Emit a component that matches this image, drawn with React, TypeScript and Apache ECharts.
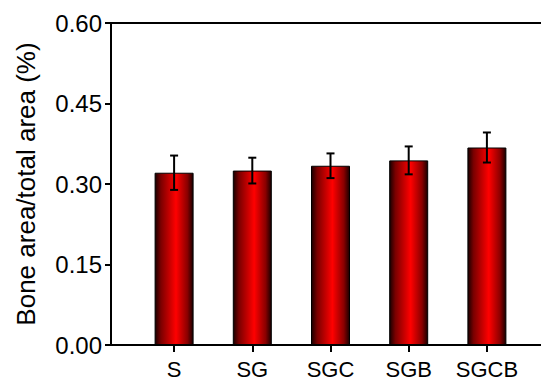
import React, { useEffect, useRef } from "react";
import * as echarts from "echarts";

const categories = ["S", "SG", "SGC", "SGB", "SGCB"];
const means = [0.321, 0.325, 0.334, 0.344, 0.368];
const errors = [0.032, 0.024, 0.023, 0.026, 0.028];
const yTicks = { min: 0, max: 0.6, interval: 0.15 };
const yTitle = "Bone area/total area (%)";

const FONT = "'Liberation Sans', Arial, sans-serif";

export default function App() {
  const ref = useRef<HTMLDivElement>(null);
  useEffect(() => {
    if (!ref.current) return;
    document.body.style.margin = "0";
    const chart = echarts.init(ref.current, undefined, { renderer: "svg" });
    const barColor = new echarts.graphic.LinearGradient(0, 0, 1, 0, [
      { offset: 0, color: "#1a0000" },
      { offset: 0.15, color: "#7a0000" },
      { offset: 0.55, color: "#ff0000" },
      { offset: 0.85, color: "#8a0000" },
      { offset: 1, color: "#1a0000" },
    ]);
    chart.setOption({
      animation: false,
      backgroundColor: "#ffffff",
      textStyle: { fontFamily: FONT },
      grid: [
        { left: 111, right: 0, top: 23, bottom: 43 },
        { left: 135, width: 391, top: 23, bottom: 43 },
      ],
      xAxis: [
        {
          gridIndex: 0,
          type: "value",
          min: 0,
          max: 1,
          position: "bottom",
          axisLine: { show: true, onZero: false, lineStyle: { color: "#000", width: 2 } },
          axisTick: { show: false },
          axisLabel: { show: false },
          splitLine: { show: false },
        },
        {
          gridIndex: 0,
          type: "value",
          min: 0,
          max: 1,
          position: "top",
          axisLine: { show: true, onZero: false, lineStyle: { color: "#000", width: 2 } },
          axisTick: { show: false },
          axisLabel: { show: false },
          splitLine: { show: false },
        },
        {
          gridIndex: 1,
          type: "category",
          data: categories,
          position: "bottom",
          axisLine: { show: false, onZero: false },
          axisTick: {
            show: true,
            alignWithLabel: true,
            interval: 0,
            length: 7,
            lineStyle: { color: "#000", width: 2 },
          },
          axisLabel: {
            color: "#000",
            fontSize: 22,
            fontFamily: FONT,
            margin: 13,
            interval: 0,
            hideOverlap: false,
          },
        },
      ],
      yAxis: [
        {
          gridIndex: 0,
          type: "value",
          min: yTicks.min,
          max: yTicks.max,
          interval: yTicks.interval,
          name: yTitle,
          nameLocation: "middle",
          nameRotate: 90,
          nameGap: 72,
          nameTextStyle: { color: "#000", fontSize: 26, fontFamily: FONT },
          axisLine: { show: true, onZero: false, lineStyle: { color: "#000", width: 2 } },
          axisTick: { show: true, length: 6, lineStyle: { color: "#000", width: 2 } },
          axisLabel: {
            color: "#000",
            fontSize: 24,
            fontFamily: FONT,
            margin: 9,
            formatter: (v: number) => v.toFixed(2),
          },
          splitLine: { show: false },
        },
        {
          gridIndex: 1,
          type: "value",
          min: yTicks.min,
          max: yTicks.max,
          interval: yTicks.interval,
          show: false,
          splitLine: { show: false },
        },
      ],
      series: [
        {
          type: "bar",
          xAxisIndex: 2,
          yAxisIndex: 1,
          data: means,
          barWidth: 39,
          itemStyle: { color: barColor, borderColor: "#000", borderWidth: 1 },
          z: 2,
        },
        {
          type: "custom",
          xAxisIndex: 2,
          yAxisIndex: 1,
          z: 5,
          data: means.map((m, i) => [i, m - errors[i], m + errors[i]]),
          renderItem: (params: any, api: any) => {
            const x = api.value(0);
            const lo = api.coord([x, api.value(1)]);
            const hi = api.coord([x, api.value(2)]);
            const hw = 4;
            const style = { stroke: "#000", lineWidth: 2 };
            return {
              type: "group",
              children: [
                { type: "line", shape: { x1: lo[0], y1: lo[1], x2: hi[0], y2: hi[1] }, style },
                { type: "line", shape: { x1: hi[0] - hw, y1: hi[1], x2: hi[0] + hw, y2: hi[1] }, style },
                { type: "line", shape: { x1: lo[0] - hw, y1: lo[1], x2: lo[0] + hw, y2: lo[1] }, style },
              ],
            };
          },
        },
      ],
    });
    return () => chart.dispose();
  }, []);
  return <div ref={ref} style={{ width: 541, height: 388 }} />;
}
